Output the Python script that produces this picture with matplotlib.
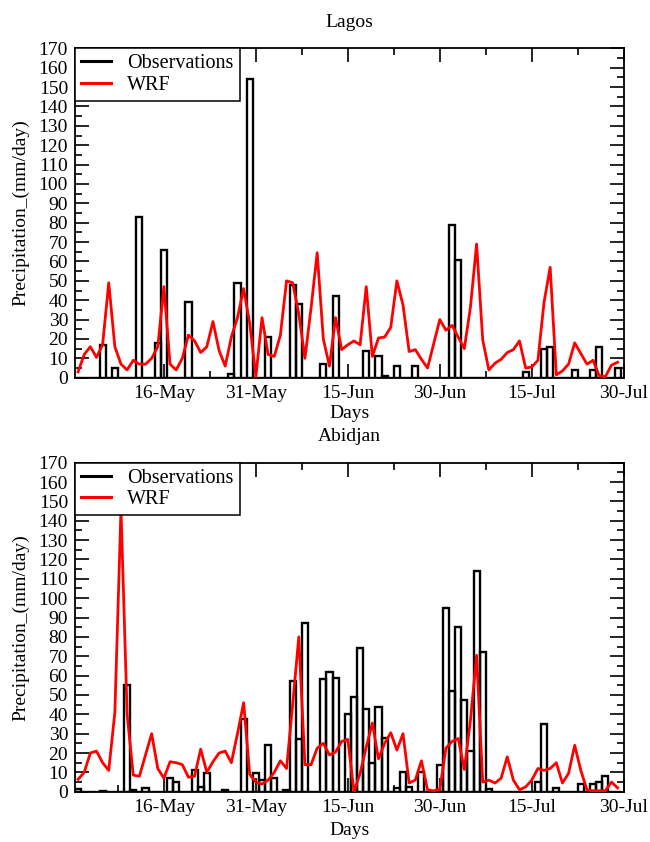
import matplotlib
matplotlib.use('Agg')
import matplotlib.pyplot as plt
from matplotlib.lines import Line2D
from matplotlib.ticker import MultipleLocator, FixedLocator

plt.rcParams['font.family'] = 'Liberation Serif'
plt.rcParams['font.size'] = 14

# day index: 1 = 1-May
days = list(range(2, 91))
tick_days = [16, 31, 46, 61, 76, 91]
tick_labels = ['16-May', '31-May', '15-Jun', '30-Jun', '15-Jul', '30-Jul']

lagos_obs = [0, 0, 0, 0, 17, 0, 5, 0, 0, 0,
             83, 0, 0, 18, 66, 0, 0, 0, 39, 0,
             0, 0, 0, 0, 0, 2, 49, 0, 154, 0,
             0, 21, 0, 0, 0, 48, 38, 0, 0, 0,
             7, 0, 42, 0, 0, 0, 0, 14, 0, 11,
             1, 0, 6, 0, 0, 6, 0, 0, 0, 0,
             0, 79, 61, 0, 0, 0, 0, 0, 0, 0,
             0, 0, 0, 3, 0, 0, 15, 16, 0, 0,
             0, 4, 0, 0, 4, 16, 0, 0, 5]
lagos_wrf = [3, 12, 16, 10.5, 17, 49, 16, 7, 4, 9,
             7, 7, 10, 16, 47, 7, 4, 10, 22, 19,
             13, 16, 29, 14, 6, 21, 31, 46, 28, 0.5,
             31, 12, 11, 22, 50, 49, 33, 10, 36, 64.5,
             20, 6, 31, 14.5, 17, 19, 17, 47, 11, 20.5,
             21, 26, 50, 37.5, 13.5, 14.5, 9.5, 5, 17.5, 30,
             24.5, 27, 21, 15, 36.5, 69, 19.5, 4, 7.5, 9.5,
             13, 14.5, 19, 5, 5.5, 9, 39, 57, 1.5, 3.5,
             7, 18, 12.5, 7, 9, 1, 0.5, 6.5, 8]

abidjan_obs = [1.5, 0, 0, 0, 0.5, 0, 0, 0, 55, 1,
               0, 2, 0, 0, 0, 7, 5, 0, 0, 11,
               2.5, 9.5, 0, 0, 1, 0, 0, 37.5, 0, 9.5,
               6, 24, 7, 0, 1, 57, 27, 87, 0, 0,
               58, 62, 58.5, 0, 40, 49, 74, 43, 15, 44,
               28, 0, 2, 10, 2.5, 0, 10, 0, 0, 14,
               95, 52, 85, 47.5, 21, 114, 72, 1.5, 0, 0,
               0, 0, 0, 0, 0, 5, 35, 0, 2, 0,
               0, 0, 4, 0, 4, 5, 8, 0, 0]
abidjan_wrf = [6.4, 10, 20, 21, 15, 11, 41, 146, 40, 8.6,
               8, 19, 30, 12, 7, 15.5, 15, 14, 7.5, 8,
               22, 10, 15.5, 20, 21, 15, 30, 46, 9, 5,
               4, 6, 10, 16, 12, 45, 80, 14, 14, 22.5,
               25, 19, 20.5, 26, 27, 0, 9.5, 23, 35.5, 17,
               25, 30.5, 21.5, 30, 4.5, 6, 16, 1, 0.5, 1.2,
               22.5, 26, 27.5, 11.5, 37, 70.5, 5, 6, 4.5, 7,
               18, 6, 1, 2.5, 6, 12, 11, 12, 15, 4.5,
               9.5, 24, 11, 1, 0.5, 0.5, 0.5, 5, 2]

fig = plt.figure(figsize=(6.5, 8.42), dpi=100)


def panel(rect, obs, wrf):
    ax = fig.add_axes(rect)
    ax.bar(days, obs, width=1.0, fill=False, edgecolor='black',
           linewidth=1.7, zorder=2)
    ax.plot(days, wrf, color='red', lw=2.0, zorder=3)
    ax.set_xlim(1.5, 91)
    ax.set_ylim(0, 170)
    ax.xaxis.set_major_locator(FixedLocator(tick_days))
    ax.set_xticklabels(tick_labels)
    ax.xaxis.set_minor_locator(FixedLocator([d - 7.5 for d in tick_days]))
    ax.yaxis.set_major_locator(MultipleLocator(10))
    ax.yaxis.set_minor_locator(MultipleLocator(5))
    ax.tick_params(which='both', direction='in', top=True, right=True,
                   width=1.2, pad=5, labelsize=14)
    ax.tick_params(which='major', length=10)
    ax.tick_params(which='minor', length=5)
    for s in ax.spines.values():
        s.set_linewidth(1.3)
    handles = [Line2D([], [], color='black', lw=2.2),
               Line2D([], [], color='red', lw=2.2)]
    leg = ax.legend(handles, ['Observations', 'WRF'], loc='upper left',
                    bbox_to_anchor=(0, 1), borderaxespad=0, fancybox=False,
                    framealpha=1, edgecolor='black', fontsize=14.5,
                    handlelength=1.5, handletextpad=0.8, borderpad=0.3,
                    labelspacing=0.1)
    leg.get_frame().set_linewidth(1.1)
    leg.set_zorder(5)
    return ax


panel([0.1154, 0.5514, 0.8442, 0.3912], lagos_obs, lagos_wrf)
panel([0.1154, 0.0597, 0.8442, 0.3908], abidjan_obs, abidjan_wrf)

fig.text(0.5375, 0.9727, 'Lagos', ha='center', va='center', fontsize=14)
fig.text(0.5375, 0.5095, 'Days', ha='center', va='center', fontsize=14)
fig.text(0.032, 0.747, 'Precipitation_(mm/day)', rotation=90,
         ha='center', va='center', fontsize=14)
fig.text(0.5375, 0.481, 'Abidjan', ha='center', va='center', fontsize=14)
fig.text(0.5375, 0.0131, 'Days', ha='center', va='center', fontsize=14)
fig.text(0.032, 0.2551, 'Precipitation_(mm/day)', rotation=90,
         ha='center', va='center', fontsize=14)

fig.savefig('out.png', dpi=100)
